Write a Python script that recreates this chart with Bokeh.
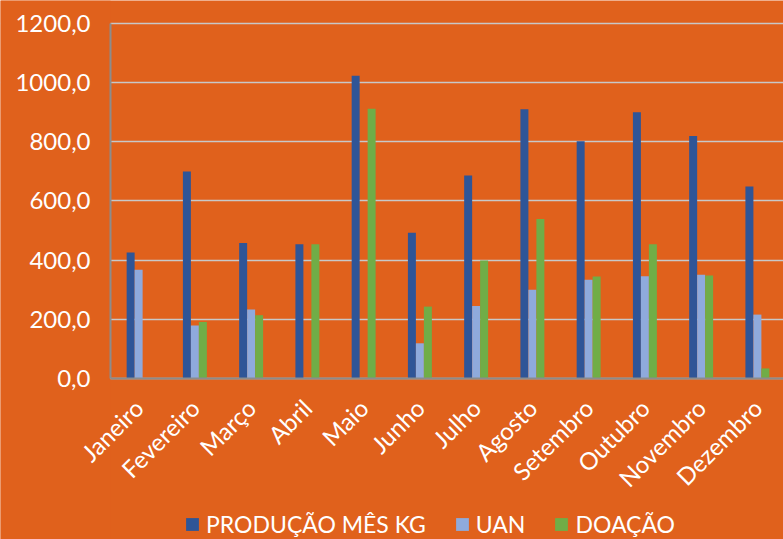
from math import pi
from bokeh.plotting import figure
from bokeh.models import Range1d, FixedTicker, Legend, LegendItem, ColumnDataSource, BoxAnnotation
from bokeh.transform import dodge
from bokeh.embed import file_html
from bokeh.resources import INLINE

months = ["Janeiro", "Fevereiro", "Março", "Abril", "Maio", "Junho", "Julho",
          "Agosto", "Setembro", "Outubro", "Novembro", "Dezembro"]
producao = [426, 700, 458, 454, 1023, 493, 686, 910, 802, 900, 820, 649]
uan = [368, 179, 233, 0, 0, 119, 245, 300, 334, 346, 351, 216]
doacao = [0, 191, 214, 454, 912, 243, 399, 539, 345, 454, 348, 34]
series_names = ["PRODUÇÃO MÊS KG", "UAN", "DOAÇÃO"]
y_ticks = [0, 200, 400, 600, 800, 1000, 1200]
y_tick_labels = ["0,0", "200,0", "400,0", "600,0", "800,0", "1000,0", "1200,0"]

BG = "#E0611C"
COLORS = ["#2F5597", "#8FAADC", "#70AD47"]
FONT = "Lato"

xpos = [i + 1 for i in range(len(months))]
src = ColumnDataSource(dict(x=xpos, producao=producao, uan=uan, doacao=doacao))

X0, X1 = -1.4556, 12.464
p = figure(width=783, height=539, x_range=Range1d(X0, X1), y_range=Range1d(-544.2, 1277.7),
           output_backend="svg", toolbar_location=None,
           min_border_left=0, min_border_right=0, min_border_top=0, min_border_bottom=0,
           background_fill_color=BG, border_fill_color=BG, outline_line_color=None)

# keep grid lines out of the tick-label area on the left
p.add_layout(BoxAnnotation(right=0.5, fill_color=BG, fill_alpha=1, line_color=None, level="underlay"))

bw = 0.142
renderers = []
for off, col, c in zip([-bw, 0, bw], ["producao", "uan", "doacao"], COLORS):
    r = p.vbar(x=dodge("x", off, range=p.x_range), top=col, width=bw, source=src,
               fill_color=c, line_color=None)
    renderers.append(r)

p.xaxis.fixed_location = 0
p.xaxis.bounds = (0.5, X1)
p.xaxis.ticker = FixedTicker(ticks=xpos)
p.xaxis.major_label_overrides = {x: m for x, m in zip(xpos, months)}
p.xaxis.major_label_orientation = pi / 4
p.yaxis.fixed_location = 0.5
p.yaxis.bounds = (0, 1200)
p.yaxis.ticker = FixedTicker(ticks=y_ticks)
p.yaxis.major_label_overrides = {t: l for t, l in zip(y_ticks, y_tick_labels)}

for ax in (p.xaxis[0], p.yaxis[0]):
    ax.major_tick_line_color = None
    ax.minor_tick_line_color = None
    ax.axis_line_color = "#8C8C8C"
    ax.axis_line_width = 2
    ax.major_label_text_color = "white"
    ax.major_label_text_font = FONT
    ax.major_label_text_font_size = "24px"
p.yaxis.major_label_standoff = 14
p.xaxis.major_label_standoff = 19

p.xgrid.grid_line_color = None
p.ygrid.grid_line_color = "#C8C8C8"
p.ygrid.grid_line_width = 1.5

legend = Legend(items=[LegendItem(label=n, renderers=[r]) for n, r in zip(series_names, renderers)],
                orientation="horizontal", location=(184, 1),
                background_fill_alpha=0, border_line_color=None,
                label_text_color="white", label_text_font=FONT, label_text_font_size="23px",
                glyph_width=16, glyph_height=16, spacing=28, label_standoff=6,
                padding=0, margin=0)
p.add_layout(legend)

open("out.html", "w").write(file_html(p, INLINE))
